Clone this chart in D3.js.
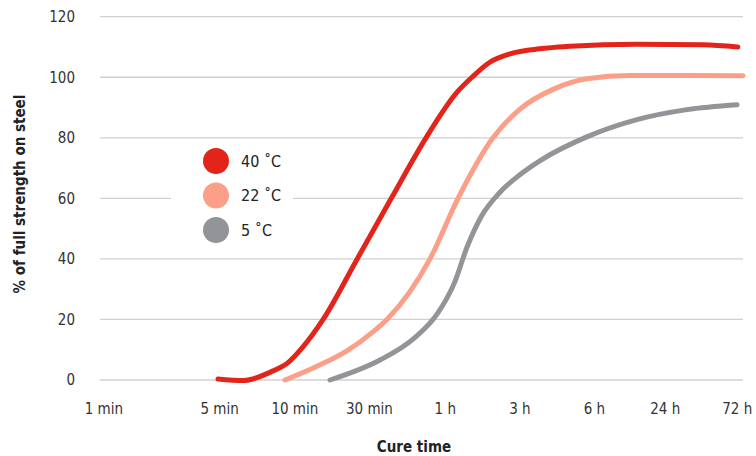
<!DOCTYPE html>
<html><head><meta charset="utf-8">
<script src="https://cdn.jsdelivr.net/npm/d3@7"></script>
<style>
html,body{margin:0;padding:0;background:#fff;}
svg{display:block;font-family:"Liberation Sans Narrow","DejaVu Sans Condensed","Open Sans",sans-serif;}
</style></head>
<body><svg id="c" width="756" height="456"></svg>
<script>
// x axis: position units (0-100 along the plot width)
const tickLabels = ["1 min","5 min","10 min","30 min","1 h","3 h","6 h","24 h","72 h"];
const tickPos    = [0.6, 18.6, 30.3, 41.9, 53.7, 65.3, 76.9, 87.9, 99.1];
const yTicks = [0,20,40,60,80,100,120];
const seriesNames = ["40 ˚C","22 ˚C","5 ˚C"];
const seriesColors = ["#e3241b","#fb9f88","#939497"];
// curve points: [position unit, % strength]
const red = [[18.35,0.3],[22.3,-0.2],[26.5,2.6],[29.3,5.8],[31.4,10.5],[34.7,20],[40.0,40],[45.3,60],[50.7,80],[55.5,95],[58.0,100.3],[60.5,104.8],[64.2,108],[68.4,109.4],[73.1,110.2],[83.5,110.9],[93.8,110.7],[99.2,110]];
const salmon = [[28.77,0],[33.5,4.3],[38.4,9.6],[42.5,16],[44.63,20],[51.32,40],[55.68,60],[61.12,80],[65.32,89.5],[70.45,96],[75.74,99.5],[82.43,100.6],[91.76,100.6],[100,100.5]];
const gray = [[35.77,0],[43.55,6.6],[48.68,13.5],[52.5,22],[55.1,32],[57.1,44],[59.3,54],[62.2,62],[65.3,67.8],[68.4,72.4],[75.7,80.3],[83.5,86],[91.3,89.3],[99.07,90.9]];
const series = [red, salmon, gray];

const svg = d3.select("#c");
const x = d3.scaleLinear().domain([0,100]).range([100,743]);
const y = d3.scaleLinear().domain([0,120]).range([380,16.7]);

// gridlines
svg.append("g").selectAll("line").data(yTicks).join("line")
  .attr("x1",x(0)).attr("x2",x(100))
  .attr("y1",d=>y(d)).attr("y2",d=>y(d))
  .attr("stroke","#d0d0d0").attr("stroke-width",1.3);

// y tick labels
svg.append("g").selectAll("text").data(yTicks).join("text")
  .attr("x",75).attr("y",d=>y(d)).attr("dy","0.35em")
  .attr("text-anchor","end").attr("font-size",15).attr("fill","#333")
  .text(d=>d);

// x tick labels
svg.append("g").selectAll("text").data(tickLabels).join("text")
  .attr("x",(d,i)=>x(tickPos[i])).attr("y",409).attr("dy","0.35em")
  .attr("text-anchor","middle").attr("font-size",15).attr("fill","#333")
  .text(d=>d);

// axis titles
svg.append("text").attr("x",414).attr("y",447).attr("dy","0.35em")
  .attr("text-anchor","middle").attr("font-size",15).attr("font-weight","bold").attr("fill","#222")
  .text("Cure time");
svg.append("text").attr("transform","translate(20,194) rotate(-90)").attr("dy","0.35em")
  .attr("text-anchor","middle").attr("font-size",15).attr("font-weight","bold").attr("fill","#222")
  .text("% of full strength on steel");

// curves
const line = d3.line().x(d=>x(d[0])).y(d=>y(d[1])).curve(d3.curveMonotoneX);
svg.append("g").selectAll("path").data(series).join("path")
  .attr("d",line).attr("fill","none")
  .attr("stroke",(d,i)=>seriesColors[i]).attr("stroke-width",5)
  .attr("stroke-linecap","round");

// legend
const lg = svg.append("g");
lg.append("rect").attr("x",171).attr("y",143).attr("width",122).attr("height",104).attr("fill","#fff");
const items = lg.selectAll("g").data(seriesNames).join("g")
  .attr("transform",(d,i)=>`translate(216,${161+i*34.5})`);
items.append("circle").attr("r",13).attr("fill",(d,i)=>seriesColors[i]);
items.append("text").attr("x",25).attr("dy","0.35em").attr("font-size",16).attr("fill","#222").text(d=>d);
</script></body></html>
